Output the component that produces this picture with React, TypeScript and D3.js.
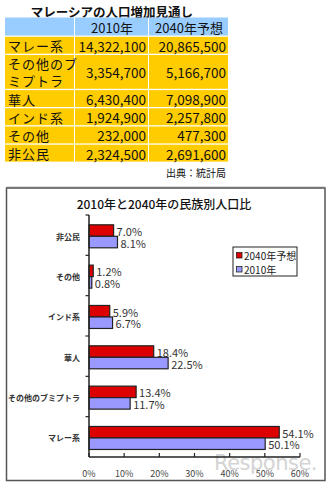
import React from "react";
import * as d3 from "d3";

const tableTitle = "マレーシアの人口増加見通し";
const tableHeaders = ["", "2010年", "2040年予想"];
const tableCategories = [["マレー系"], ["その他のブ", "ミプトラ"], ["華人"], ["インド系"], ["その他"], ["非公民"]];
const pop2010 = [14322100, 3354700, 6430400, 1924900, 232000, 2324500];
const pop2040 = [20865500, 5166700, 7098900, 2257800, 477300, 2691600];
const sourceText = "出典：統計局";

const chartTitle = "2010年と2040年の民族別人口比";
const chartCategories = ["非公民", "その他", "インド系", "華人", "その他のブミプトラ", "マレー系"];
const seriesNames = ["2040年予想", "2010年"];
const pct2040 = [7.0, 1.2, 5.9, 18.4, 13.4, 54.1];
const pct2010 = [8.1, 0.8, 6.7, 22.5, 11.7, 50.1];
const xTicks = [0, 10, 20, 30, 40, 50, 60];

const FONT = "'Noto Sans CJK JP', 'Noto Sans', sans-serif";
const YELLOW = "#FFCC00";
const HEADBLUE = "#99CCFF";
const RED = "#DD0000";
const BLUE = "#9999FF";

export default function App() {
  const fmt = d3.format(",");
  const colX = [5, 75, 149, 229];
  const unit = 16.9;
  const gap = 1.3;
  const rows: { y: number; h: number }[] = [];
  let y = 17.5;
  const headerH = 18;
  const headerY = y;
  y += headerH + gap;
  tableCategories.forEach((c) => {
    const h = unit * c.length;
    rows.push({ y, h });
    y += h + gap;
  });

  const x = d3.scaleLinear().domain([0, 60]).range([89, 300]);
  const yb = d3.scaleBand<string>().domain(chartCategories).range([215, 457]);
  const inner = d3.scaleBand<string>().domain(seriesNames).range([9.8, 32.8]);
  const vals = [pct2040, pct2010];
  const colors = [RED, BLUE];

  return (
    <div style={{ position: "absolute", left: 0, top: 0 }}>
      <svg width={336} height={487} style={{ display: "block", fontFamily: FONT }}>
        <rect width={336} height={487} fill="#fff" />
        <text x={112} y={11} textAnchor="middle" dominantBaseline="central" fontSize={12.5} fontWeight={700} fill="#111">
          {tableTitle}
        </text>
        {[0, 1, 2].map((i) => (
          <rect key={"h" + i} x={colX[i]} y={headerY} width={colX[i + 1] - colX[i] - 1} height={headerH} fill={HEADBLUE} />
        ))}
        <text x={112} y={headerY + headerH / 2 + 0.5} textAnchor="middle" dominantBaseline="central" fontSize={13} fill="#111">
          {tableHeaders[1]}
        </text>
        <text x={189} y={headerY + headerH / 2 + 0.5} textAnchor="middle" dominantBaseline="central" fontSize={13} fill="#111">
          {tableHeaders[2]}
        </text>
        {rows.map((r, i) => (
          <g key={"r" + i}>
            {[0, 1, 2].map((j) => (
              <rect key={j} x={colX[j]} y={r.y} width={colX[j + 1] - colX[j] - 1} height={r.h} fill={YELLOW} />
            ))}
            {tableCategories[i].map((line, k) => (
              <text key={k} x={8} y={r.y + unit / 2 + 0.5 + k * unit} dominantBaseline="central" fontSize={13} letterSpacing={1} fill="#111">
                {line}
              </text>
            ))}
            <text x={146} y={r.y + r.h / 2 + 0.5} textAnchor="end" dominantBaseline="central" fontSize={13.5} fill="#111">
              {fmt(pop2010[i])}
            </text>
            <text x={226} y={r.y + r.h / 2 + 0.5} textAnchor="end" dominantBaseline="central" fontSize={13.5} fill="#111">
              {fmt(pop2040[i])}
            </text>
          </g>
        ))}
        <text x={226} y={172} textAnchor="end" dominantBaseline="central" fontSize={10} fill="#111">
          {sourceText}
        </text>

        <rect x={6.5} y={188} width={318.5} height={292.5} fill="#fff" stroke="#555" strokeWidth={1.5} />
        <line x1={6.5} x2={325} y1={187.8} y2={187.8} stroke="#777" strokeWidth={2} />
        <text x={164} y={203} textAnchor="middle" dominantBaseline="central" fontSize={12} fontWeight={500} fill="#111">
          {chartTitle}
        </text>

        {/* watermark */}
        <text x={214} y={470} fontSize={21} fill="#d4d4d4" fontFamily="'DejaVu Sans', sans-serif" letterSpacing={-0.5}>
          Response.
        </text>

        {chartCategories.map((c, i) => (
          <g key={c}>
            {seriesNames.map((s, k) => {
              const by = (yb(c) as number) + (inner(s) as number);
              const bh = inner.bandwidth();
              const v = vals[k][i];
              return (
                <g key={s}>
                  <rect x={x(0)} y={by} width={x(v) - x(0)} height={bh} fill={colors[k]} stroke="#222" strokeWidth={1.2} />
                  <text x={x(v) + 3} y={by + bh / 2 + 0.5} dominantBaseline="central" fontSize={11} fill="#333">
                    {v.toFixed(1) + "%"}
                  </text>
                </g>
              );
            })}
            <text x={80} y={(yb(c) as number) + yb.bandwidth() / 2 + 1} textAnchor="end" dominantBaseline="central" fontSize={8} fontWeight={700} fill="#333">
              {c}
            </text>
          </g>
        ))}

        <line x1={x(0)} x2={x(0)} y1={215} y2={457} stroke="#222" strokeWidth={1.5} />
        <line x1={x(0)} x2={x(60)} y1={457} y2={457} stroke="#222" strokeWidth={1.5} />
        {chartCategories.map((c) => (
          <line key={"t" + c} x1={x(0) - 3.5} x2={x(0)} y1={yb(c) as number} y2={yb(c) as number} stroke="#222" strokeWidth={1.2} />
        ))}
        {xTicks.map((t) => (
          <g key={"x" + t}>
            <line x1={x(t)} x2={x(t)} y1={457} y2={453} stroke="#222" strokeWidth={1.2} />
            <text x={x(t)} y={473} textAnchor="middle" dominantBaseline="central" fontSize={9} fill="#444">
              {t + "%"}
            </text>
          </g>
        ))}

        <rect x={233} y={247} width={64} height={29} fill="#fff" stroke="#222" strokeWidth={1} />
        {seriesNames.map((s, k) => (
          <g key={"l" + s}>
            <rect x={236.5} y={252.5 + k * 14} width={5.5} height={5.5} fill={colors[k]} stroke="#222" strokeWidth={0.8} />
            <text x={244} y={255.5 + k * 14} dominantBaseline="central" fontSize={10} fill="#222">
              {s}
            </text>
          </g>
        ))}
      </svg>
    </div>
  );
}
